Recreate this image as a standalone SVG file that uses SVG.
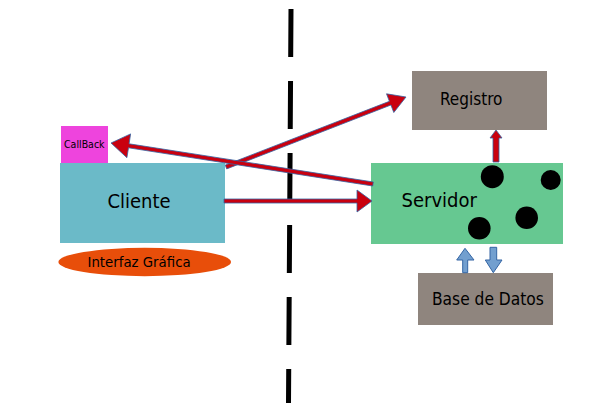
<svg xmlns="http://www.w3.org/2000/svg" width="605" height="420" viewBox="0 0 605 420">
<style>
text{font-family:"DejaVu Sans Condensed","DejaVu Sans",sans-serif;font-stretch:condensed;fill:#000}
.red{fill:#c9000f;stroke:#3465a4;stroke-width:0.8;stroke-linejoin:miter}
.blue{fill:#729fcf;stroke:#3465a4;stroke-width:1}
.dot{fill:#000}
</style>
<rect width="605" height="420" fill="#fff"/>
<line id="divider" x1="291" y1="9" x2="288.5" y2="403" stroke="#000" stroke-width="5" stroke-dasharray="48 24"/>
<g id="cliente">
<rect x="60" y="163" width="165" height="80" fill="#6bbac8"/>
<text x="139" y="207.5" font-size="20" text-anchor="middle">Cliente</text>
</g>
<g id="callback">
<rect x="61" y="126" width="47" height="37" fill="#ee44dd"/>
<text x="64" y="147.5" font-size="10.5">CallBack</text>
</g>
<g id="interfaz">
<ellipse cx="144.7" cy="262" rx="86.3" ry="14.2" fill="#e84e0a"/>
<text x="87.5" y="266.5" font-size="14.8">Interfaz Gráfica</text>
</g>
<g id="registro">
<rect x="412" y="71" width="135" height="59" fill="#8f857e"/>
<text x="440" y="104.5" font-size="17">Registro</text>
</g>
<g id="servidor">
<rect x="371" y="163" width="192" height="81" fill="#66c891"/>
<text x="401.5" y="207" font-size="20">Servidor</text>
<circle class="dot" cx="492.3" cy="176.7" r="11.5"/>
<circle class="dot" cx="550.7" cy="180" r="10"/>
<circle class="dot" cx="526.7" cy="217.7" r="11.3"/>
<circle class="dot" cx="479.3" cy="228.3" r="11.3"/>
</g>
<g id="basedatos">
<rect x="418" y="273" width="135" height="52" fill="#8f857e"/>
<text x="432" y="305.3" font-size="17.2">Base de Datos</text>
</g>
<g id="connectors">
<polygon class="red" points="224,199 357,199 357,190 372,201 357,212 357,203 224,203"/>
<polygon class="red" points="226.7,168.9 390.9,105.0 393.8,112.5 406,97 386.5,93.8 389.4,101.3 225.3,165.1"/>
<polygon class="red" points="373.3,182.0 129.1,143.8 130.6,133.9 111,143 126.9,157.7 128.5,147.8 372.7,186.0"/>
<polygon class="red" points="493,162 493,138 490,138 496,130 502,138 499,138 499,162"/>
<polygon class="blue" points="462.7,272.7 462.7,260 456.7,260 465,248.3 474,260 467.7,260 467.7,272.7"/>
<polygon class="blue" points="490,247.3 496.7,247.3 496.7,260 502,260 493.3,272.7 485.3,260 490,260"/>
</g>
</svg>
